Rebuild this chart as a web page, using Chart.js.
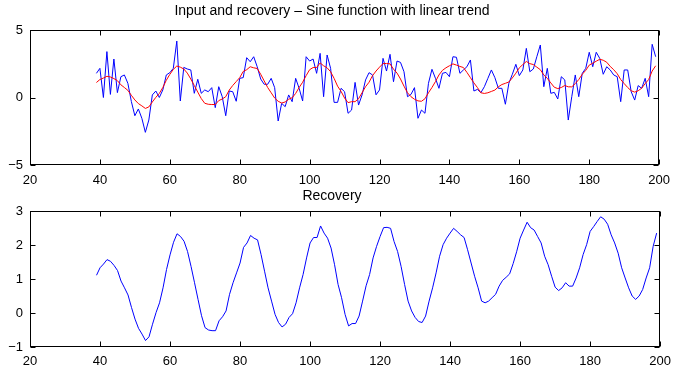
<!DOCTYPE html>
<html>
<head>
<meta charset="utf-8">
<script src="https://cdn.jsdelivr.net/npm/chart.js@4.4.1/dist/chart.umd.min.js"></script>
<style>
  html, body { margin: 0; padding: 0; background: #fff; }
  #wrap { position: relative; width: 678px; height: 372px; overflow: hidden; }
  .pane { position: absolute; left: 0; width: 678px; }
  #topPane { top: 0; height: 190px; }
  #bottomPane { top: 180px; height: 192px; }
</style>
</head>
<body>
<div id="wrap">
  <div class="pane" id="topPane"><canvas id="inputChart"></canvas></div>
  <div class="pane" id="bottomPane"><canvas id="recoveryChart"></canvas></div>
</div>
<script>
/* Input and recovery – two stacked MATLAB-style panels */

const FIRST_SAMPLE = 39;   // x of the first sample, one sample per unit

// noisy input (blue, top panel), samples 39..199
const inputSignal = [
  1.79, 2.16, 0.00, 3.40, 0.23, 2.85, 0.36, 1.54, 1.67, 1.05,
  -0.30, -1.35, -0.85, -1.54, -2.58, -1.67, 0.19, 0.48, 0.00, 0.56,
  1.67, 1.84, 2.16, 4.18, -0.26, 2.23, 2.11, 2.04, 0.31, 1.35,
  0.31, 0.56, 0.43, 0.73, -0.75, 0.80, 0.06, -1.35, 0.48, 0.43,
  -0.28, 1.42, 1.47, 2.95, 2.65, 3.02, 2.28, 1.37, 0.98, 0.98,
  1.42, 0.73, -1.74, -0.43, -0.68, 0.19, -0.31, 1.42, 0.68, -0.26,
  3.02, 2.70, 2.85, 1.79, 3.27, 0.06, 3.15, 2.16, -0.36, -0.36,
  0.68, 0.43, -1.17, -0.93, 1.12, -0.56, 0.19, 1.30, 1.84, 1.67,
  0.20, 0.56, 2.90, 1.96, 3.20, 1.17, 2.70, 2.60, 1.91, 0.06,
  0.23, 0.73, -1.54, -0.93, -1.17, 1.05, 2.09, 1.42, 0.68, 1.79,
  1.86, 1.54, 3.02, 2.98, 1.79, 2.04, 2.28, 2.78, 0.48, 0.60,
  0.36, 0.80, 1.42, 2.04, 1.47, 0.68, 0.68, -0.50, 1.05, 1.72,
  2.46, 1.62, 2.04, 3.64, 1.91, 2.11, 3.02, 3.89, 0.80, 2.16,
  0.31, 0.38, -0.11, 1.54, 1.30, -1.67, 0.06, 1.67, 0.06, 1.79,
  2.16, 3.35, 2.28, 3.35, 2.90, 1.72, 2.28, 2.04, 1.67, 1.54,
  -0.31, 2.04, 2.04, 0.43, -0.19, 0.88, 0.68, 1.42, 0.06, 3.94,
  3.02
];

// recovered signal (red on top, blue on bottom), samples 39..199
const recovery = [
  1.11, 1.33, 1.44, 1.57, 1.52, 1.40, 1.25, 0.94, 0.74, 0.53,
  0.16, -0.18, -0.45, -0.62, -0.81, -0.70, -0.33, 0.01, 0.30, 0.74,
  1.28, 1.71, 2.08, 2.33, 2.25, 2.11, 1.81, 1.37, 0.89, 0.40,
  -0.08, -0.43, -0.50, -0.52, -0.52, -0.23, -0.11, 0.06, 0.55, 0.89,
  1.18, 1.47, 1.93, 2.06, 2.28, 2.20, 2.15, 1.72, 1.23, 0.74,
  0.35, -0.04, -0.28, -0.41, -0.33, -0.13, -0.02, 0.30, 0.74, 1.13,
  1.62, 2.06, 2.22, 2.22, 2.56, 2.35, 2.20, 1.91, 1.42, 0.84,
  0.45, -0.04, -0.38, -0.31, -0.31, -0.09, 0.35, 0.80, 1.13, 1.62,
  1.96, 2.25, 2.51, 2.52, 2.49, 2.10, 1.81, 1.37, 0.84, 0.35,
  0.06, -0.13, -0.25, -0.28, -0.09, 0.35, 0.74, 1.18, 1.67, 2.01,
  2.20, 2.35, 2.49, 2.40, 2.30, 2.22, 1.86, 1.47, 1.08, 0.74,
  0.35, 0.30, 0.35, 0.45, 0.55, 0.79, 0.96, 1.05, 1.15, 1.45,
  1.80, 2.20, 2.44, 2.67, 2.51, 2.44, 2.25, 2.06, 1.67, 1.42,
  1.08, 0.76, 0.66, 0.74, 0.89, 0.79, 0.79, 1.03, 1.33, 1.72,
  2.01, 2.40, 2.54, 2.69, 2.83, 2.76, 2.61, 2.30, 2.06, 1.76,
  1.33, 1.03, 0.74, 0.50, 0.40, 0.50, 0.69, 1.03, 1.33, 1.96,
  2.35
];

const X_RANGE = [20, 200];
const X_STEP = 20;
const TOP_Y_RANGE = [-5, 5];
const TOP_Y_STEP = 5;
const BOTTOM_Y_RANGE = [-1, 3];
const BOTTOM_Y_STEP = 1;

const TOP_TITLE = 'Input and recovery \u2013 Sine function with linear trend';
const BOTTOM_TITLE = 'Recovery';

const FONT = 'Liberation Sans, Arial, Helvetica, sans-serif';
const TICK_LEN = 5;

const toPoints = arr => arr.map((v, i) => ({ x: FIRST_SAMPLE + i, y: v }));
const fmtTick = v => (v < 0 ? '\u2212' + Math.abs(v) : String(v));

// box round the axes + inward tick marks, like MATLAB
const matlabFrame = {
  id: 'matlabFrame',
  afterDatasetsDraw(chart) {
    const { ctx, chartArea: a, scales } = chart;
    const L = Math.round(a.left) + 0.5, R = Math.round(a.right) - 0.5;
    const T = Math.round(a.top) + 0.5, B = Math.round(a.bottom) - 0.5;
    ctx.save();
    ctx.strokeStyle = '#000';
    ctx.lineWidth = 1;
    ctx.beginPath();
    scales.x.ticks.forEach(t => {
      const px = Math.round(scales.x.getPixelForValue(t.value)) + 0.5;
      ctx.moveTo(px, B); ctx.lineTo(px, B - TICK_LEN);
      ctx.moveTo(px, T); ctx.lineTo(px, T + TICK_LEN);
    });
    scales.y.ticks.forEach(t => {
      const py = Math.round(scales.y.getPixelForValue(t.value)) + 0.5;
      ctx.moveTo(L, py); ctx.lineTo(L + TICK_LEN, py);
      ctx.moveTo(R, py); ctx.lineTo(R - TICK_LEN, py);
    });
    ctx.stroke();
    ctx.strokeRect(L, T, R - L, B - T);
    ctx.restore();
  }
};

function makeScales(yRange, yStep, xLabelPad) {
  return {
    x: {
      type: 'linear', min: X_RANGE[0], max: X_RANGE[1],
      grid: { display: false, drawTicks: false }, border: { display: false },
      ticks: { stepSize: X_STEP, color: '#000', padding: xLabelPad, maxRotation: 0,
               font: { family: FONT, size: 13 }, callback: fmtTick },
      afterFit: s => { s.height = 25; },
    },
    y: {
      type: 'linear', min: yRange[0], max: yRange[1],
      grid: { display: false, drawTicks: false }, border: { display: false },
      ticks: { stepSize: yStep, color: '#000', padding: 7,
               font: { family: FONT, size: 13 }, callback: fmtTick },
      afterFit: s => { s.width = 30; },
    },
  };
}

function baseOptions(title, titlePad, yRange, yStep, xLabelPad) {
  return {
    responsive: true, maintainAspectRatio: false, animation: false,
    devicePixelRatio: 1,
    layout: { padding: { left: 0, right: 14, top: 0, bottom: 0 } },
    plugins: {
      legend: { display: false },
      tooltip: { enabled: false },
      title: {
        display: true, text: title, color: '#000',
        font: { family: FONT, size: 14, weight: 'normal' },
        padding: titlePad,
      },
    },
    scales: makeScales(yRange, yStep, xLabelPad),
  };
}

new Chart(document.getElementById('inputChart'), {
  type: 'line',
  data: {
    datasets: [
      { label: 'Recovery', data: toPoints(recovery), borderColor: '#ff0000',
        borderWidth: 1, pointRadius: 0, tension: 0, fill: false, order: 0 },
      { label: 'Input', data: toPoints(inputSignal), borderColor: '#0000ff',
        borderWidth: 1, pointRadius: 0, tension: 0, fill: false, order: 1 },
    ],
  },
  options: baseOptions(TOP_TITLE, { top: 2.6, bottom: 10.6 }, TOP_Y_RANGE, TOP_Y_STEP, 8),
  plugins: [matlabFrame],
});

new Chart(document.getElementById('recoveryChart'), {
  type: 'line',
  data: {
    datasets: [
      { label: 'Recovery', data: toPoints(recovery), borderColor: '#0000ff',
        borderWidth: 1, pointRadius: 0, tension: 0, fill: false },
    ],
  },
  options: baseOptions(BOTTOM_TITLE, { top: 7.5, bottom: 6.7 }, BOTTOM_Y_RANGE, BOTTOM_Y_STEP, 7),
  plugins: [matlabFrame],
});
</script>
</body>
</html>
